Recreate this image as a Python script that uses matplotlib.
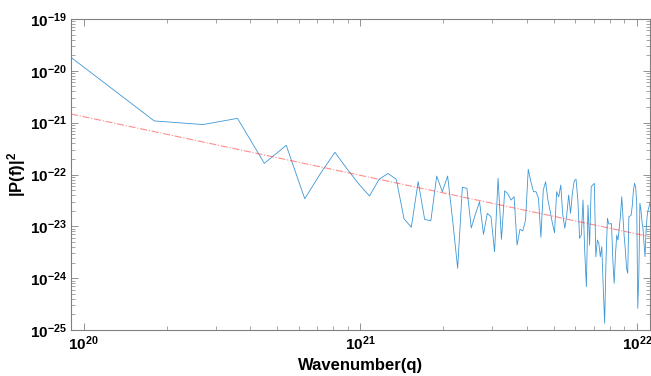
import matplotlib
matplotlib.use('Agg')
import matplotlib.pyplot as plt
import numpy as np
from matplotlib.ticker import LogLocator, FuncFormatter, NullFormatter

# wavenumber grid (FFT bins) and power spectrum
dq = 0.9e20
n_bins = 124
power = [
    1.82e-20, 1.08e-21, 9.2e-22, 1.21e-21, 1.64e-22, 3.66e-22, 3.41e-23, 1.07e-22,
    2.68e-22, 1.24e-22, 6.50e-23, 3.85e-23, 8.07e-23, 1.05e-22, 8.07e-23, 1.40e-23,
    9.6e-24, 7.26e-23, 1.36e-23, 1.28e-23, 9.35e-23, 4.66e-23, 9.35e-23, 1.26e-23,
    1.55e-24, 5.66e-23, 5.42e-23, 9.3e-24, 1.73e-23, 2.99e-23, 7.0e-24, 1.78e-23,
    1.53e-23, 3.24e-24, 8.44e-23, 5.6e-24, 4.86e-23, 4.2e-23, 3.22e-23, 3.73e-23,
    4.36e-24, 8.75e-24, 8.2e-24, 1.32e-23, 1.26e-22, 7.26e-23, 4.66e-23, 4.66e-23,
    3.48e-23, 6.14e-24, 5.02e-23, 7.26e-23, 3.22e-23, 1.98e-23, 1.16e-23, 7.53e-24,
    4.66e-23, 3.73e-23, 6.27e-23, 1.65e-23, 9.2e-24, 1.65e-23, 4.02e-23, 1.78e-23,
    4.46e-23, 7.59e-23, 8.07e-23, 3.22e-23, 5.87e-24, 6.8e-24, 3.22e-23, 3.36e-24,
    6.84e-25, 2.58e-23, 4.36e-24, 5.81e-23, 6.27e-23, 6.76e-23, 2.59e-24, 5.45e-24,
    4.7e-24, 2.59e-24, 4.05e-24, 6.78e-25, 1.35e-25, 2.34e-24, 1.43e-23, 1.11e-23,
    1.12e-23, 1.13e-23, 2.24e-24, 7.96e-25, 2.8e-24, 6.8e-24, 5.45e-24, 9.2e-24,
    1.65e-23, 3.73e-23, 1.53e-23, 6.5e-24, 3.49e-24, 1.55e-24, 1.24e-24, 1.53e-23,
    1.58e-23, 1.65e-23, 2.52e-23, 4.89e-23, 6.76e-23, 5.81e-23, 2.78e-23, 2.62e-25,
    1.15e-24, 2.78e-23, 2.07e-23, 1.23e-23, 8.87e-24, 4.6e-24, 2.59e-24, 8.0e-24,
    1.53e-23, 2.04e-23, 2.39e-23, 2.9e-23,
]
q = dq * np.arange(1, n_bins + 1)

# power-law fit line, end values
fit_p = [1.47e-21, 6.3e-24]

# decade ticks
x_ticks = [1e20, 1e21, 1e22]
y_ticks = [1e-25, 1e-24, 1e-23, 1e-22, 1e-21, 1e-20, 1e-19]

plt.rcParams['font.family'] = ['Liberation Sans', 'DejaVu Sans']
plt.rcParams['mathtext.fontset'] = 'custom'
plt.rcParams['mathtext.rm'] = 'Liberation Sans'
plt.rcParams['mathtext.bf'] = 'Liberation Sans:bold'

fig = plt.figure(figsize=(6.51, 3.76), dpi=100)
ax = fig.add_axes([71 / 651, 1 - 330 / 376, 579 / 651, 311 / 376])

ax.loglog(q, power, color='#3d97d6', lw=0.6)
ax.loglog([q[0], q[-1]], fit_p, color='#ff3030', lw=0.8, ls='-.', alpha=0.55)

ax.set_xlim(q[0], q[-1])
ax.set_ylim(1e-25, 1e-19)

ax.set_xticks(x_ticks)
ax.set_yticks(y_ticks)
ax.xaxis.set_minor_locator(LogLocator(base=10, subs=np.arange(2, 10), numticks=20))
ax.yaxis.set_minor_locator(LogLocator(base=10, subs=np.arange(2, 10), numticks=20))
fmt = FuncFormatter(lambda v, p: r'$\mathbf{10^{%d}}$' % round(np.log10(v)))
ax.xaxis.set_major_formatter(fmt)
ax.yaxis.set_major_formatter(fmt)
ax.xaxis.set_minor_formatter(NullFormatter())
ax.yaxis.set_minor_formatter(NullFormatter())

for s in ax.spines.values():
    s.set_color('0.5')
    s.set_linewidth(0.8)
ax.tick_params(which='both', direction='in', top=True, right=True, color='0.5',
               labelsize=11, pad=3)
ax.tick_params(which='major', length=5, width=0.6)
ax.tick_params(which='minor', length=3, width=0.5)

ax.set_xlabel('Wavenumber(q)', fontsize=12, fontweight='bold', labelpad=4)
ax.set_ylabel(r'$\mathbf{|P(f)|^2}$', fontsize=12)
ax.yaxis.set_label_coords(-0.075, 0.5)

plt.savefig('out.png', dpi=100)
